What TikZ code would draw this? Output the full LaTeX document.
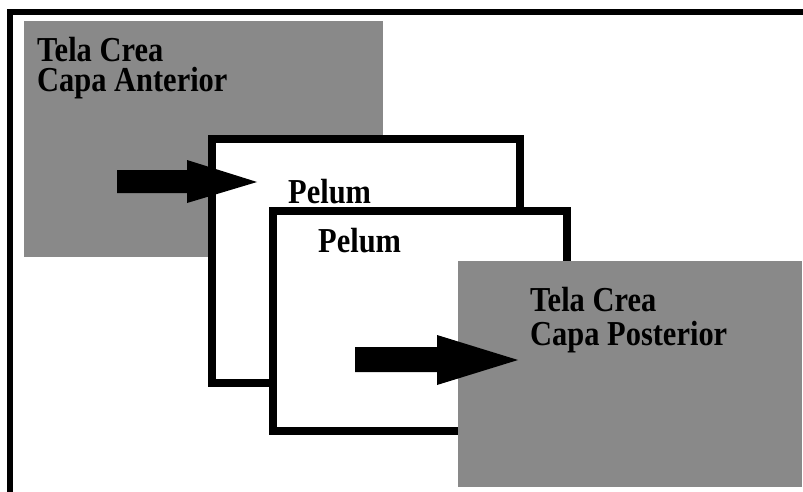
\documentclass[tikz,border=0pt]{standalone}
\usepackage{fontspec}
\setmainfont{Liberation Serif}[FakeStretch=0.87]
\definecolor{layergray}{RGB}{137,137,137}
\tikzset{
  layer/.style={fill=layergray, draw=none},
  sheet/.style={fill=white, draw=black, line width=8pt, line join=miter},
  frameline/.style={draw=black, line width=6.5pt},
  pointer/.style={fill=black, draw=none},
  label/.style={anchor=base west, inner sep=0pt, font=\fontsize{35}{35}\selectfont\bfseries},
  block/.style={anchor=north west, inner sep=0pt, align=left}
}
\begin{document}
\begin{tikzpicture}[x=1pt, y=-1pt]
  \useasboundingbox (0,0) rectangle (803,492);
  % frame: top and left edges only
  \coordinate (fl) at (10,492);
  \coordinate (fc) at (10,12);
  \coordinate (fr) at (803,12);
  \draw[frameline] (fl) -- (fc) -- (fr);

  % front fabric layer
  \fill[layer] (24,21) rectangle (383,257);
  \node[block, font=\fontsize{35}{30}\selectfont\bfseries] (ta) at (37,37)
    {Tela Crea\\Capa Anterior};

  % two pelum sheets
  \draw[sheet] (211.5,139) rectangle (519.5,382.5);
  \node[label] (p1) at (288,203) {Pelum};
  \draw[sheet] (272.5,211) rectangle (566.5,430.5);
  \node[label] (p2) at (318,252) {Pelum};

  % back fabric layer
  \fill[layer] (458,261) rectangle (802,487);
  \node[block, font=\fontsize{35}{34}\selectfont\bfseries] (tp) at (530,287)
    {Tela Crea\\Capa Posterior};

  % arrows
  \fill[pointer] (117,170) -- (187,170) -- (187,160) -- (257,182)
        -- (187,203) -- (187,193) -- (117,193) -- cycle;
  \fill[pointer] (355,347) -- (437,347) -- (437,335) -- (518,360)
        -- (437,385) -- (437,372) -- (355,372) -- cycle;
\end{tikzpicture}
\end{document}
